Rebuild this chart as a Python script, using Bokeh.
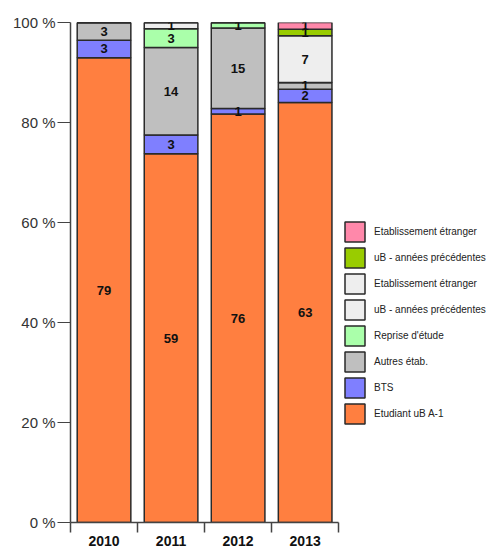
from bokeh.plotting import figure
from bokeh.models import Range1d, FixedTicker, Legend, LegendItem, ColumnDataSource
from bokeh.core.properties import value
from bokeh.embed import file_html
from bokeh.resources import INLINE

years = ["2010", "2011", "2012", "2013"]

# series, bottom to top of the stack
series_keys = ["etudiant", "bts", "autres", "reprise", "ub_prec_a", "etab_a", "ub_prec_b", "etab_b"]
series_labels = ["Etudiant uB A-1", "BTS", "Autres étab.", "Reprise d'étude",
                 "uB - années précédentes", "Etablissement étranger",
                 "uB - années précédentes", "Etablissement étranger"]
series_colors = ["#FF7F40", "#7F7FFF", "#BFBFBF", "#AAFFAA", "#EEEEEE", "#EEEEEE", "#99CC00", "#FF88AA"]

etudiant = [79, 59, 76, 63]
bts = [3, 3, 1, 2]
autres = [3, 14, 15, 1]
reprise = [0, 3, 1, 0]
ub_prec_a = [0, 1, 0, 0]
etab_a = [0, 0, 0, 7]
ub_prec_b = [0, 0, 0, 1]
etab_b = [0, 0, 0, 1]

y_ticks = [0, 20, 40, 60, 80, 100]
y_tick_labels = ["0 %", "20 %", "40 %", "60 %", "80 %", "100 %"]

counts = [etudiant, bts, autres, reprise, ub_prec_a, etab_a, ub_prec_b, etab_b]
totals = [sum(c[i] for c in counts) for i in range(len(years))]
xpos = [i + 0.5 for i in range(len(years))]

data = {"x": xpos}
for k, c in zip(series_keys, counts):
    data[k] = [v / t * 100 for v, t in zip(c, totals)]
src = ColumnDataSource(data)

FONT = "Liberation Sans"
BAR_AREA_FRACTION = 0.64   # share of the frame width taken by the bars (rest holds the legend)

p = figure(width=489, height=548, output_backend="svg", toolbar_location=None,
           x_range=Range1d(0, len(years) / BAR_AREA_FRACTION),
           y_range=Range1d(0, 100),
           min_border_left=70, min_border_right=0, min_border_top=22, min_border_bottom=25)
p.outline_line_color = None
p.xgrid.visible = False
p.ygrid.visible = False
p.background_fill_color = "white"

renderers = p.vbar_stack(series_keys, x="x", width=0.8, source=src,
                         fill_color=series_colors, line_color="#2a2a2a", line_width=1.5)

# value labels
lx, ly, lt = [], [], []
for i in range(len(years)):
    base = 0.0
    for c in counts:
        pct = c[i] / totals[i] * 100
        if c[i] > 0:
            lx.append(xpos[i])
            ly.append(base + pct / 2)
            lt.append(str(c[i]))
        base += pct
p.text(x=lx, y=ly, text=lt, text_align="center", text_baseline="middle",
       text_font=value(FONT), text_font_style="bold", text_font_size="13px", text_color="#111111")

# axes
xa = p.xaxis[0]
xa.ticker = FixedTicker(ticks=xpos, minor_ticks=list(range(len(years) + 1)))
xa.major_label_overrides = {x: y for x, y in zip(xpos, years)}
xa.bounds = (0, len(years))
xa.axis_line_color = "#444444"
xa.axis_line_width = 1.5
xa.major_tick_line_color = None
xa.major_tick_out = 0
xa.major_tick_in = 0
xa.minor_tick_line_color = "#444444"
xa.minor_tick_line_width = 1.5
xa.minor_tick_out = 10
xa.minor_tick_in = 0
xa.major_label_standoff = 3
xa.major_label_text_font = FONT
xa.major_label_text_font_style = "bold"
xa.major_label_text_font_size = "14px"
xa.major_label_text_color = "#111111"

ya = p.yaxis[0]
ya.ticker = FixedTicker(ticks=y_ticks)
ya.major_label_overrides = {t: l for t, l in zip(y_ticks, y_tick_labels)}
ya.axis_line_color = "#444444"
ya.axis_line_width = 1.5
ya.major_tick_out = 13
ya.major_tick_in = 0
ya.major_tick_line_color = "#444444"
ya.minor_tick_line_color = None
ya.major_label_standoff = 2
ya.major_label_text_font = FONT
ya.major_label_text_font_size = "15px"
ya.major_label_text_color = "#333333"

items = [LegendItem(label=l, renderers=[r]) for l, r in zip(series_labels, renderers)][::-1]
legend = Legend(items=items, location=(272, 96), orientation="vertical",
                glyph_width=25, glyph_height=25, spacing=1, padding=0, margin=0,
                label_standoff=7, label_height=25,
                label_text_font=FONT, label_text_font_size="10px", label_text_color="#222222",
                border_line_color=None, background_fill_alpha=0)
p.add_layout(legend, "center")

open("out.html", "w").write(file_html(p, INLINE))
